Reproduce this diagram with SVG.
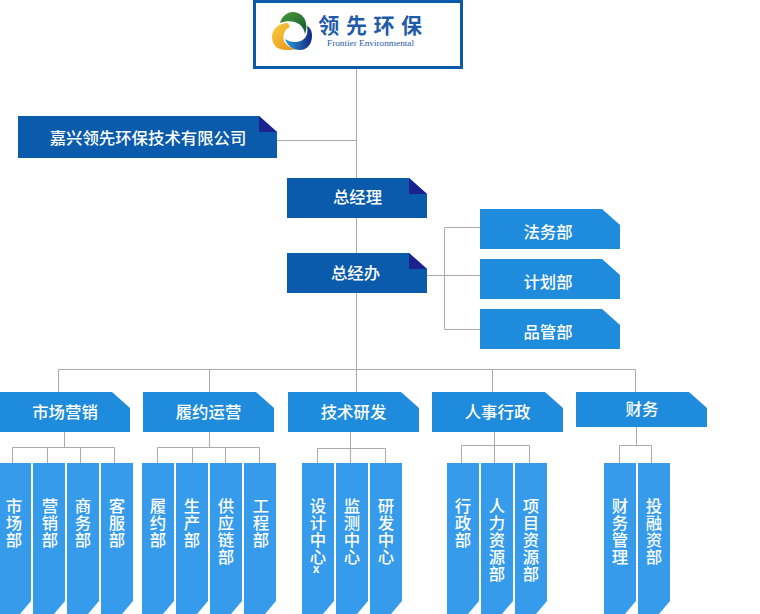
<svg xmlns="http://www.w3.org/2000/svg" width="760" height="614" viewBox="0 0 760 614">
<style>
text{font-family:"Noto Sans CJK SC","Liberation Sans",sans-serif;font-size:16.400px;font-weight:500;fill:#fff;text-anchor:middle}
.dark{fill:#0a5bab}.fold{fill:#1c2190}.mid{fill:#1f8bdc}.col{fill:#369bea}
#connectors path{fill:none;stroke:#aaa;stroke-width:1}
</style>
<defs>
<linearGradient id="gG" x1="0" y1="0" x2="1" y2="1"><stop offset="0" stop-color="#4f9a3c"/><stop offset="1" stop-color="#0f5a2c"/></linearGradient>
<linearGradient id="gO" x1="0" y1="0" x2="1" y2="1"><stop offset="0" stop-color="#f8cf3c"/><stop offset="1" stop-color="#e8901c"/></linearGradient>
<linearGradient id="gB" x1="0" y1="0" x2="1" y2="0"><stop offset="0" stop-color="#2a9ad8"/><stop offset="1" stop-color="#14287f"/></linearGradient>
</defs>
<g id="connectors">
<path d="M356.500 69V392M277 140.500H356.500M427 275.500H480M444.500 227.500V329.500M444.500 227.500H480M444.500 329.500H480"/>
<path d="M58.500 392V369.500H635.500V392M209.500 369.500V392M492.500 369.500V392"/>
<path d="M64.500 432V447.500M12.500 463V447.500H114.500V463M47.500 447.500V463M80.500 447.500V463"/>
<path d="M209.500 432V447.500M157.500 463V447.500H259.500V463M192.500 447.500V463M225.500 447.500V463"/>
<path d="M350.500 432V463M317.500 463V448.500H385.500V463"/>
<path d="M494.500 432V463M461.500 463V445.500H529.500V463"/>
<path d="M636.500 427V445.500M619.500 463V445.500H651.500V463"/>
</g>
<g id="logo">
<rect x="254.500" y="1.500" width="207" height="66" fill="#fff" stroke="#0a5bab" stroke-width="3"/>
<path d="M280 23C282 16 287 12 293 12C300 12 305 17 306 23C307 27 306 31 305 34C304 29 302 26 299 24C295 21 287 20 280 23Z" fill="url(#gG)"/>
<path d="M288 23C279 23 272 29 272 37C272 45 278 50 285 50C289 50 293 50 296 49C290 48 286 45 284 41C282 35 285 29 290 27Z" fill="url(#gO)"/>
<path d="M307 26C311 28 312 32 312 36C312 44 307 50 300 50C292 50 287 45 285 39C288 41 291 42 295 42C304 42 309 36 307 26Z" fill="url(#gB)"/>
<text x="373.500" y="33" style="font-size:21px;font-weight:700;fill:#1f5ba8;letter-spacing:6.600px">领先环保</text>
<text x="370.500" y="46" textLength="87" lengthAdjust="spacingAndGlyphs" style="font-family:'Liberation Serif',serif;font-size:9px;font-weight:400;fill:#1f5ba8">Frontier Environmental</text>
</g>
<g id="company"><polygon class="dark" points="18,116 259,116 277,132 277,158 18,158"/><polygon class="fold" points="259,116 277,132 259,132"/><text x="148" y="144">嘉兴领先环保技术有限公司</text></g>
<g id="gm"><polygon class="dark" points="287,178 409,178 427,194 427,218 287,218"/><polygon class="fold" points="409,178 427,194 409,194"/><text x="357.500" y="203">总经理</text></g>
<g id="office"><polygon class="dark" points="287,253 409,253 427,269 427,293 287,293"/><polygon class="fold" points="409,253 427,269 409,269"/><text x="355.500" y="279">总经办</text></g>
<g id="legal"><polygon class="mid" points="480,209 602,209 620,225 620,249 480,249"/><text x="548" y="238">法务部</text></g>
<g id="plan"><polygon class="mid" points="480,259 602,259 620,275 620,299 480,299"/><text x="548" y="288">计划部</text></g>
<g id="quality"><polygon class="mid" points="480,309 602,309 620,325 620,349 480,349"/><text x="548" y="338">品管部</text></g>
<g id="marketing"><polygon class="mid" points="0,392 112,392 130,408 130,432 0,432"/><text x="65" y="418">市场营销</text></g>
<g id="fulfil"><polygon class="mid" points="143,392 256,392 274,408 274,432 143,432"/><text x="208.500" y="418">履约运营</text></g>
<g id="rnd"><polygon class="mid" points="288,392 401,392 419,408 419,432 288,432"/><text x="353.500" y="418">技术研发</text></g>
<g id="hr"><polygon class="mid" points="432,392 545,392 563,408 563,432 432,432"/><text x="497.500" y="418">人事行政</text></g>
<g id="finance"><polygon class="mid" points="576,392 689,392 707,408 707,427 576,427"/><text x="642" y="415">财务</text></g>
<g id="d1"><polygon class="col" points="0,463 31,463 31,601 20,614 0,614"/><text x="14 14 14" y="512 529 546">市场部</text></g>
<g id="d2"><polygon class="col" points="33,463 65,463 65,601 54,614 33,614"/><text x="50 50 50" y="512 529 546">营销部</text></g>
<g id="d3"><polygon class="col" points="67,463 99,463 99,601 88,614 67,614"/><text x="83 83 83" y="512 529 546">商务部</text></g>
<g id="d4"><polygon class="col" points="101,463 133,463 133,601 122,614 101,614"/><text x="117 117 117" y="512 529 546">客服部</text></g>
<g id="d5"><polygon class="col" points="142,463 174,463 174,601 163,614 142,614"/><text x="158 158 158" y="512 529 546">履约部</text></g>
<g id="d6"><polygon class="col" points="176,463 208,463 208,601 197,614 176,614"/><text x="192 192 192" y="512 529 546">生产部</text></g>
<g id="d7"><polygon class="col" points="210,463 242,463 242,601 231,614 210,614"/><text x="226 226 226 226" y="512 529 546 563">供应链部</text></g>
<g id="d8"><polygon class="col" points="244,463 276,463 276,601 265,614 244,614"/><text x="261 261 261" y="512 529 546">工程部</text></g>
<g id="d9"><polygon class="col" points="302,463 334,463 334,601 323,614 302,614"/><text x="318 318 318 318" y="512 529 546 563">设计中心<tspan x="316" y="573" style="font-size:12px;font-weight:700">x</tspan></text></g>
<g id="d10"><polygon class="col" points="336,463 368,463 368,601 357,614 336,614"/><text x="352 352 352 352" y="512 529 546 563">监测中心</text></g>
<g id="d11"><polygon class="col" points="370,463 402,463 402,601 391,614 370,614"/><text x="386 386 386 386" y="512 529 546 563">研发中心</text></g>
<g id="d12"><polygon class="col" points="447,463 479,463 479,601 468,614 447,614"/><text x="463 463 463" y="512 529 546">行政部</text></g>
<g id="d13"><polygon class="col" points="481,463 513,463 513,601 502,614 481,614"/><text x="497 497 497 497 497" y="512 529 546 563 580">人力资源部</text></g>
<g id="d14"><polygon class="col" points="515,463 547,463 547,601 536,614 515,614"/><text x="531 531 531 531 531" y="512 529 546 563 580">项目资源部</text></g>
<g id="d15"><polygon class="col" points="604,463 636,463 636,601 625,614 604,614"/><text x="620 620 620 620" y="512 529 546 563">财务管理</text></g>
<g id="d16"><polygon class="col" points="638,463 670,463 670,601 659,614 638,614"/><text x="654 654 654 654" y="512 529 546 563">投融资部</text></g>
</svg>
